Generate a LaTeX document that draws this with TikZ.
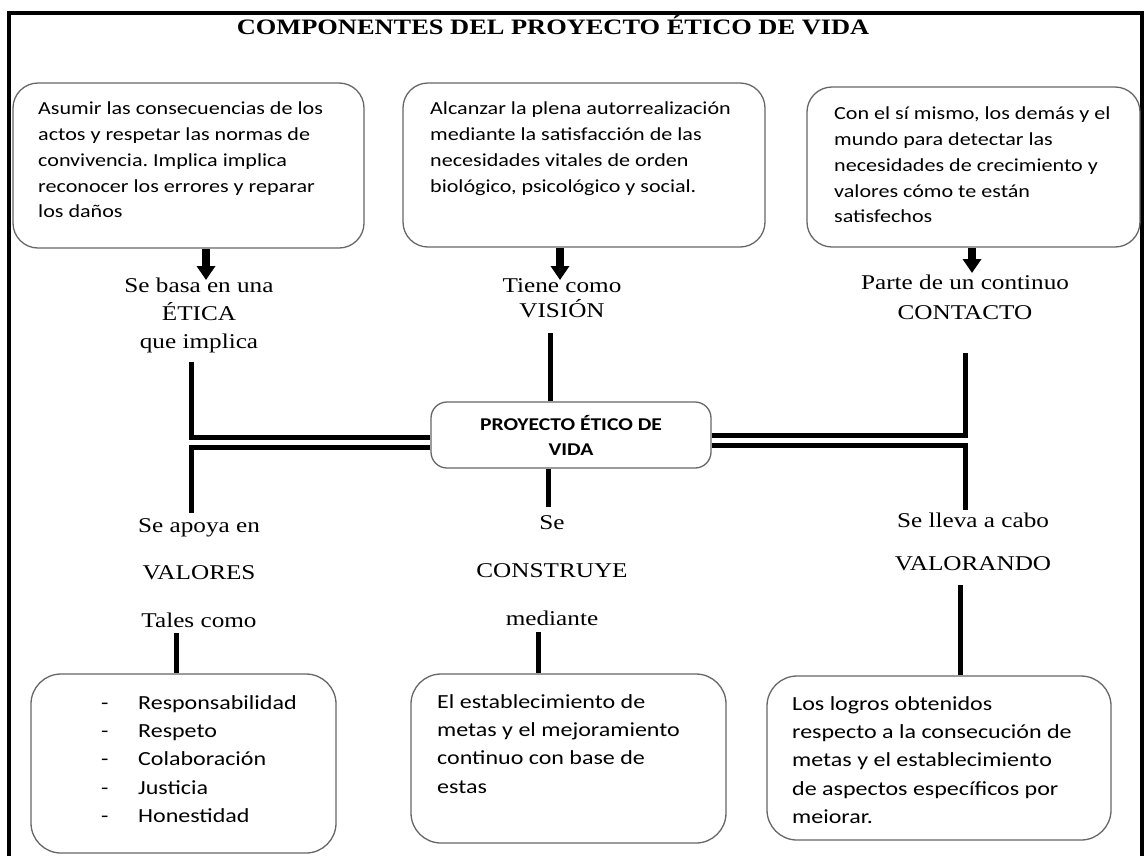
\documentclass[tikz,border=0pt]{standalone}
\usepackage{fontspec}
\setmainfont{Liberation Serif}[FakeStretch=1.2]
\newfontfamily\boxfont{Carlito}[FakeStretch=1.2]
\usetikzlibrary{arrows.meta,positioning}
\newcommand{\itemdash}{\makebox[37pt][l]{-}}
\frenchspacing

\tikzset{
  ebox/.style={draw=black!60, line width=1.3pt, rounded corners=25pt, inner sep=0pt},
  etext/.style={anchor=north west, inner sep=0pt, align=left, font=\boxfont\fontsize{18.4}{25.7}\selectfont},
  btext/.style={etext, font=\boxfont\fontsize{20}{28.4}\selectfont},
  elabel/.style={anchor=north, inner sep=0pt, align=center},
  link/.style={line width=5pt},
  fatarrow/.style={line width=8pt, -{Triangle[length=14pt,width=18pt]}}
}

\begin{document}
\begin{tikzpicture}[x=1pt,y=-1pt]
\useasboundingbox (0,0) rectangle (1147,855);
\clip (0,0) rectangle (1147,855);

% marco
\draw[line width=4pt] (9,880) -- (9,13) -- (1142,13) -- (1142,880);
\node[anchor=base, font=\bfseries\fontsize{22}{26}\selectfont] (title) at (553,34) {COMPONENTES DEL PROYECTO ÉTICO DE VIDA};

% cajas de arriba
\node[ebox, minimum width=351pt, minimum height=165pt] (boxA) at (188.5,165.5) {};
\node[ebox, minimum width=362pt, minimum height=164pt] (boxB) at (584,165) {};
\node[ebox, minimum width=333pt, minimum height=160pt] (boxC) at (973.5,167) {};
\node[etext] (txtA) at (38,102) {Asumir las consecuencias de los\\actos y respetar las normas de\\convivencia. Implica implica\\reconocer los errores y reparar\\los daños};
\node[etext] (txtB) at (430,102) {Alcanzar la plena autorrealización\\mediante la satisfacción de las\\necesidades vitales de orden\\biológico, psicológico y social.};
\node[etext] (txtC) at (834,107) {Con el sí mismo, los demás y el\\mundo para detectar las\\necesidades de crecimiento y\\valores cómo te están\\satisfechos};

% etiquetas de arriba
\node[elabel, font=\fontsize{21}{28}\selectfont] (lblA) at (199,278) {Se basa en una\\ÉTICA\\que implica};
\node[elabel, font=\fontsize{21}{25}\selectfont] (lblB) at (562,278) {Tiene como\\VISIÓN};
\node[elabel, font=\fontsize{21}{30}\selectfont] (lblC) at (965,275) {Parte de un continuo\\CONTACTO};

\draw[fatarrow] ([xshift=17.5pt]boxA.south) -- ([xshift=7pt,yshift=-2pt]lblA.north);
\draw[fatarrow] ([xshift=-24pt]boxB.south) -- ([xshift=-2pt,yshift=-2pt]lblB.north);
\draw[fatarrow] ([xshift=-1.5pt]boxC.south) -- ([xshift=7pt,yshift=2pt]lblC.north);

% centro
\node[ebox, rounded corners=16pt, minimum width=280pt, minimum height=66pt, align=center,
  font=\boxfont\bfseries\fontsize{18}{25}\selectfont] (centre) at (571,435) {PROYECTO ÉTICO DE\\VIDA};

\coordinate (lt) at (191,362);
\coordinate (lb) at (191,513);
\coordinate (rt) at (965,353);
\coordinate (rb) at (965,510);
\coordinate (ct) at (550,333);
\coordinate (cb) at (548,507);
\draw[link] (lt) |- ([yshift=-2pt]centre.west);
\draw[link] (lb) |- ([yshift=-12pt]centre.west);
\draw[link] (rt) |- (centre.east);
\draw[link] (rb) |- ([yshift=-10pt]centre.east);
\draw[link] (ct |- centre.north) -- (ct);
\draw[link] (cb |- centre.south) -- (cb);

% etiquetas de abajo
\node[elabel, font=\fontsize{21}{47.5}\selectfont] (lblD) at (199,518) {Se apoya en\\VALORES\\Tales como};
\node[elabel, font=\fontsize{21}{48}\selectfont] (lblE) at (552,515) {Se\\CONSTRUYE\\mediante};
\node[elabel, font=\fontsize{21}{43}\selectfont] (lblF) at (973,513) {Se lleva a cabo\\VALORANDO};

% cajas de abajo
\node[ebox, rounded corners=30pt, minimum width=305pt, minimum height=179pt] (boxD) at (183.5,763.5) {};
\node[ebox, rounded corners=30pt, minimum width=315pt, minimum height=169pt] (boxE) at (568.5,758.5) {};
\node[ebox, rounded corners=30pt, minimum width=344pt, minimum height=164pt] (boxF) at (939,758) {};
\node[btext] (txtD) at (101,695) {\itemdash Responsabilidad\\\itemdash Respeto\\\itemdash Colaboración\\\itemdash Justicia\\\itemdash Honestidad};
\node[btext] (txtE) at (437,694) {El establecimiento de\\metas y el mejoramiento\\continuo con base de\\estas};
\node[btext] (txtF) at (792,696) {Los logros obtenidos\\respecto a la consecución de\\metas y el establecimiento\\de aspectos específicos por\\meiorar.};

\coordinate (vd) at (176,633);
\coordinate (ve) at (538,632);
\coordinate (vf) at (960,585);
\draw[link] (vd) -- (vd |- boxD.north);
\draw[link] (ve) -- (ve |- boxE.north);
\draw[link] (vf) -- (vf |- boxF.north);
\end{tikzpicture}
\end{document}
